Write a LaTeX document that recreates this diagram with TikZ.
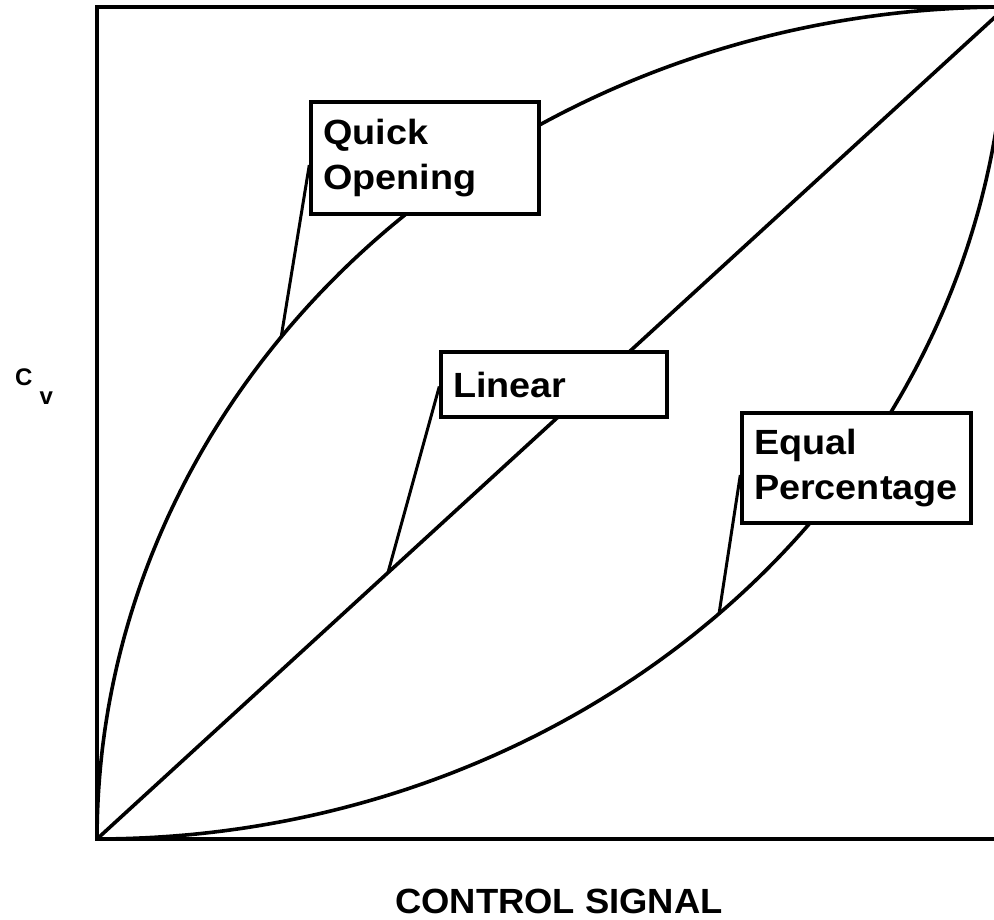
\documentclass[tikz,border=0pt]{standalone}
\usepackage{fontspec}
\setmainfont{Liberation Sans}
\newfontfamily\labfont[FakeStretch=1.08]{Liberation Sans}
\newfontfamily\axfont[FakeStretch=1.04]{Liberation Sans}
\newfontfamily\cvfont{Liberation Sans}
\begin{document}
\begin{tikzpicture}[x=1pt,y=-1pt,
  curve/.style={line width=3.6pt, line join=round},
  frame/.style={line width=3.6pt},
  lab/.style={draw, line width=3.4pt, fill=white, align=left, inner xsep=12pt, inner ysep=0pt,
              font=\labfont\bfseries\fontsize{35}{45}\selectfont},
  leader/.style={line width=3pt}]
\useasboundingbox (0,0) rectangle (994,919);
\coordinate (O) at (97,839);
\coordinate (TR) at (1006,7);
\coordinate (TL) at (97,7);
\coordinate (BR) at (1006,839);
\begin{scope}
\clip (0,0) rectangle (994,919);
\draw[frame] (TR) -- (TL) -- (O) -- (BR);
% quick opening
\draw[curve] plot[domain=0:90,samples=150] ({1006-909*cos(\x)},{839-832*sin(\x)});
% linear
\draw[curve] (O) -- (TR);
% equal percentage
\draw[curve] plot[domain=0:90,samples=150] ({97+909*sin(\x)},{7+832*cos(\x)});
\end{scope}

\node[lab, text width=204pt, minimum width=228pt, minimum height=112pt] (qo) at (425,158) {Quick\\Opening};
\node[lab, text width=202pt, minimum width=226pt, minimum height=65pt] (li) at (554,384.5) {Linear};
\node[lab, text width=205pt, minimum width=229pt, minimum height=110pt] (ep) at (856.5,468) {Equal\\Percentage};

\coordinate (qpt) at (281,338);
\coordinate (lpt) at (388,572.5);
\coordinate (ept) at (719,614);
\draw[leader] ([yshift=-7pt]qo.west) -- (qpt);
\draw[leader] ([yshift=-2pt]li.west) -- (lpt);
\draw[leader] ([yshift=-7pt]ep.west) -- (ept);

\node[anchor=base west, inner sep=0pt] (cv) at (15,385) {\cvfont\bfseries\fontsize{24}{28}\selectfont C\hspace{7pt}\raisebox{-19pt}{v}};
\node[anchor=base, inner sep=0pt] (xl) at (559,913) {\axfont\bfseries\fontsize{35}{40}\selectfont CONTROL SIGNAL};
\end{tikzpicture}
\end{document}
